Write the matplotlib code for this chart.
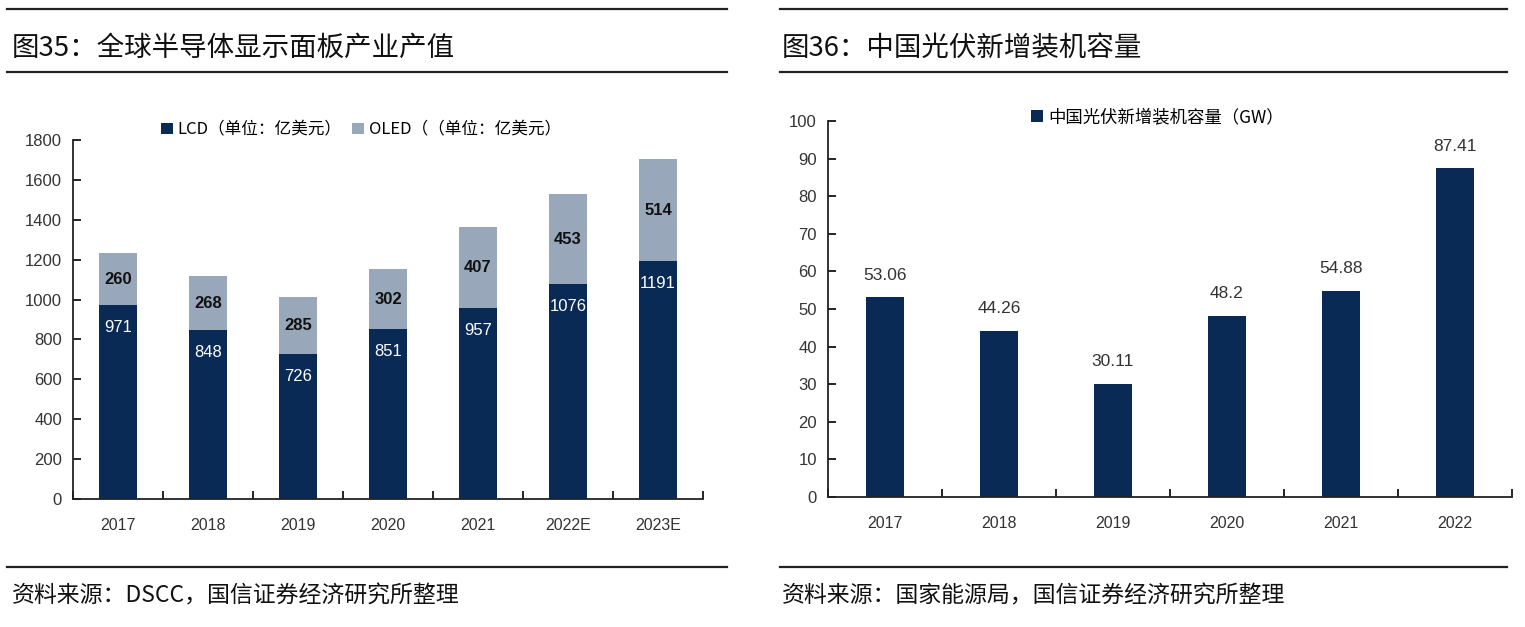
import numpy as np
import matplotlib
matplotlib.use('Agg')
import matplotlib.pyplot as plt
from matplotlib.lines import Line2D

plt.rcParams['font.family'] = ['Liberation Sans', 'Noto Sans CJK SC', 'DejaVu Sans']

# left chart data
years_l = ['2017', '2018', '2019', '2020', '2021', '2022E', '2023E']
lcd = [971, 848, 726, 851, 957, 1076, 1191]
oled = [260, 268, 285, 302, 407, 453, 514]

# right chart data
years_r = ['2017', '2018', '2019', '2020', '2021', '2022']
pv = [53.06, 44.26, 30.11, 48.2, 54.88, 87.41]
pv_txt = ['53.06', '44.26', '30.11', '48.2', '54.88', '87.41']

dark = '#0a2a56'
light = '#98a7b9'
cjk = ['Noto Sans CJK SC', 'DejaVu Sans']

W, H = 1525, 627
fig = plt.figure(figsize=(W / 100, H / 100), dpi=100)


def hline(y, x0, x1):
    fig.add_artist(Line2D([x0 / W, x1 / W], [1 - y / H, 1 - y / H],
                          color='#222222', lw=1.6, transform=fig.transFigure))


for x0, x1 in [(7, 727), (780, 1507)]:
    hline(9, x0, x1)
    hline(72, x0, x1)
    hline(567, x0, x1)

fig.text(12 / W, 1 - 48 / H, '图35：全球半导体显示面板产业产值', fontsize=19.8,
         family=cjk, va='center', ha='left', color='#111111', fontweight='medium')
fig.text(782 / W, 1 - 48 / H, '图36：中国光伏新增装机容量', fontsize=19.8,
         family=cjk, va='center', ha='left', color='#111111', fontweight='medium')
fig.text(12 / W, 1 - 596 / H, '资料来源：DSCC，国信证券经济研究所整理', fontsize=16.5,
         family=cjk, va='center', ha='left', color='#111111')
fig.text(782 / W, 1 - 596 / H, '资料来源：国家能源局，国信证券经济研究所整理', fontsize=16.5,
         family=cjk, va='center', ha='left', color='#111111')


def style(ax, n):
    ax.spines['top'].set_visible(False)
    ax.spines['right'].set_visible(False)
    ax.spines['left'].set_color('#222222')
    ax.spines['bottom'].set_color('#222222')
    ax.spines['left'].set_linewidth(1.3)
    ax.spines['bottom'].set_linewidth(1.3)
    ax.set_xlim(-0.5, n - 0.5)
    ax.tick_params(axis='y', direction='in', length=6, width=1.2, labelsize=12,
                   labelcolor='#333333', pad=8)
    ax.tick_params(axis='x', which='major', length=0, labelsize=11.5,
                   labelcolor='#333333', pad=14)
    ax.set_xticks(np.arange(n + 1) - 0.5, minor=True)
    ax.tick_params(axis='x', which='minor', direction='in', length=6, width=1.2)


# left chart
ax1 = fig.add_axes([73 / W, 128 / H, 630 / W, 359 / H])
x = np.arange(len(years_l))
ax1.bar(x, lcd, width=0.42, color=dark, label='LCD（单位：亿美元）')
ax1.bar(x, oled, width=0.42, bottom=lcd, color=light, label='OLED（（单位：亿美元）')
ax1.set_ylim(0, 1800)
ax1.set_yticks(np.arange(0, 1801, 200))
ax1.set_xticks(x)
ax1.set_xticklabels(years_l)
style(ax1, len(years_l))
for i in range(len(x)):
    ax1.annotate(str(lcd[i]), (x[i], lcd[i]), xytext=(0, -16), textcoords='offset points',
                 ha='center', va='center', color='white', fontsize=12)
    ax1.text(x[i], lcd[i] + oled[i] / 2, str(oled[i]), ha='center', va='center',
             color='#111111', fontsize=12, fontweight='bold')
ax1.legend(loc='center', bbox_to_anchor=(0.457, 1.028), ncol=2, frameon=False,
           handlelength=0.7, handleheight=0.7, handletextpad=0.3, columnspacing=0.6,
           prop={'family': cjk, 'size': 12})

# right chart
ax2 = fig.add_axes([828 / W, 130 / H, 684 / W, 376 / H])
x2 = np.arange(len(years_r))
ax2.bar(x2, pv, width=0.33, color=dark, label='中国光伏新增装机容量（GW）')
ax2.set_ylim(0, 100)
ax2.set_yticks(np.arange(0, 101, 10))
ax2.set_xticks(x2)
ax2.set_xticklabels(years_r)
style(ax2, len(years_r))
for i in range(len(x2)):
    ax2.annotate(pv_txt[i], (x2[i], pv[i]), xytext=(0, 16), textcoords='offset points',
                 ha='center', va='center', color='#333333', fontsize=12.5)
ax2.legend(loc='center', bbox_to_anchor=(0.481, 1.011), frameon=False,
           handlelength=0.7, handleheight=0.7, handletextpad=0.3,
           prop={'family': cjk, 'size': 12.5})

fig.savefig('out.png', dpi=100)
